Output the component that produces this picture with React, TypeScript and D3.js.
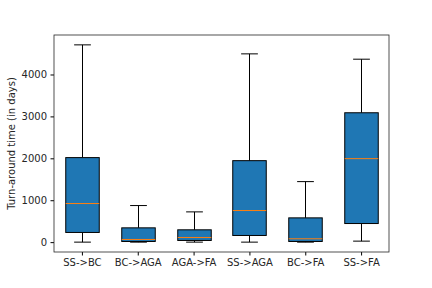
import * as d3 from "d3";
import { useRef, useEffect } from "react";

// box statistics (days)
const categories = ["SS->BC", "BC->AGA", "AGA->FA", "SS->AGA", "BC->FA", "SS->FA"];
const whiskerLow = [0, 0, 0, 0, 0, 24];
const q1 = [231, 16, 40, 159, 16, 444];
const medians = [921, 64, 111, 754, 80, 1992];
const q3 = [2017, 341, 294, 1944, 579, 3087];
const whiskerHigh = [4707, 873, 722, 4492, 1444, 4365];
const yTicks = [0, 1000, 2000, 3000, 4000];

export default function App({
  width = 432,
  height = 288,
  marginTop = 35,
  marginRight = 43,
  marginBottom = 36,
  marginLeft = 54
}) {
  const gx = useRef(null);
  const gy = useRef(null);

  const x = d3.scaleLinear([0.5, categories.length + 0.5], [marginLeft, width - marginRight]);
  const lo = d3.min(whiskerLow);
  const hi = d3.max(whiskerHigh);
  const pad = (hi - lo) * 0.05;
  const y = d3.scaleLinear([lo - pad, hi + pad], [height - marginBottom, marginTop]);
  const boxW = x(0.6) - x(0);
  const capW = x(0.3) - x(0);
  const font = "DejaVu Sans, sans-serif";

  useEffect(() => {
    const g = d3.select(gx.current)
      .call(d3.axisBottom(x).tickValues(categories.map((_, i) => i + 1)).tickFormat((d) => categories[d - 1]).tickSize(3.5).tickPadding(3.5));
    g.select(".domain").remove();
    g.selectAll("text").style("font-size", "10px").style("font-family", font).attr("fill", "#262626");
  }, [gx, x]);

  useEffect(() => {
    const g = d3.select(gy.current)
      .call(d3.axisLeft(y).tickValues(yTicks).tickFormat(d3.format("d")).tickSize(3.5).tickPadding(3.5));
    g.select(".domain").remove();
    g.selectAll("text").style("font-size", "10px").style("font-family", font).attr("fill", "#262626");
  }, [gy, y]);

  return (
    <svg width={width} height={height} style={{ position: "absolute", left: 0, top: 0 }}>
      <rect width={width} height={height} fill="white" />
      {categories.map((c, i) => {
        const cx = Math.round(x(i + 1)) + 0.5;
        return (
          <g key={c} stroke="black" strokeWidth="1">
            <line x1={cx} x2={cx} y1={y(whiskerLow[i])} y2={y(q1[i])} />
            <line x1={cx} x2={cx} y1={y(q3[i])} y2={y(whiskerHigh[i])} />
            <line x1={cx - capW / 2} x2={cx + capW / 2} y1={y(whiskerLow[i])} y2={y(whiskerLow[i])} />
            <line x1={cx - capW / 2} x2={cx + capW / 2} y1={y(whiskerHigh[i])} y2={y(whiskerHigh[i])} />
            <rect x={cx - boxW / 2} width={boxW} y={y(q3[i])} height={y(q1[i]) - y(q3[i])} fill="#1f77b4" />
            <line x1={cx - boxW / 2} x2={cx + boxW / 2} y1={y(medians[i])} y2={y(medians[i])} stroke="#ff7f0e" />
          </g>
        );
      })}
      <g ref={gx} transform={`translate(0,${height - marginBottom})`} />
      <g ref={gy} transform={`translate(${marginLeft},0)`} />
      <rect x={marginLeft} y={marginTop} width={width - marginLeft - marginRight} height={height - marginTop - marginBottom}
        fill="none" stroke="#262626" strokeWidth="0.8" />
      <text transform={`translate(11.5,${(marginTop + height - marginBottom) / 2}) rotate(-90)`} textAnchor="middle"
        dominantBaseline="central" fontSize="10px" fontFamily={font} fill="#262626">Turn-around time (in days)</text>
    </svg>
  );
}
